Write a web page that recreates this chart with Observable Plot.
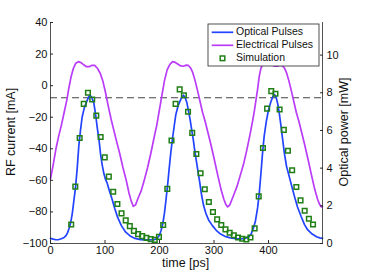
<!DOCTYPE html>
<html>
<head>
<meta charset="utf-8">
<script src="https://cdn.jsdelivr.net/npm/d3@7"></script>
<script src="https://cdn.jsdelivr.net/npm/@observablehq/plot@0.6"></script>
<style>
  html, body { margin: 0; padding: 0; background: #fff; }
  #chart { width: 381px; height: 277px; }
</style>
</head>
<body>
<div id="chart"></div>
<script>
// ---- data ----
const elecT = [0,5,10,15,20,25,30,34,38,42,46,51,56,61,66,71,76,81,86,91,96,101,106,111,116,121,127,133,139,144,148,152,156,161,166,172,178,184,190,195,199,204,209,214,219,224,229,234,239,244,249,253,257,261,265,270,275,279,284,289,294,300,307,313,318,322,325,329,333,337,342,348,354,360,366,371,374,377,380,383,386,390,395,401,406,411,416,421,425,429,433,437,442,447,451,456,461,466,472,479,485,490,494,497,499];
const elecMA = [-59,-50,-40,-32,-25,-17,-9,-1,6,11,14,15.2,14.6,13.2,12,12,12.9,12.8,11,8,3,-4.5,-13,-21,-28,-35,-43,-52,-60,-68,-73,-76.5,-75.5,-71,-67,-60,-52,-43,-33,-25,-17,-7,3,10,13.5,15.2,14.7,13.6,12.5,12.3,13,12.8,11.2,8.2,3.5,-3.5,-11,-17,-23,-30,-37,-46,-57,-66,-72,-75.5,-76.8,-75.5,-72,-68.5,-64,-57,-50,-41,-31,-22,-16,-9,-2,6,11,14,15.2,14.6,13.4,12.3,12.3,13,12.8,11.2,8.2,3.5,-3.5,-11,-17,-23,-30,-37,-46,-57,-66,-72,-75.5,-76.8,-76.5];

const optT = [0,5,10,15,20,25,28,31,34,37,40,43,46,49,52,55,58,62,66,70,73,76,79.5,82.5,86,89,92,95,98,101,104,108,113,118,123,130,138,147,155,165,178,190,196,200,203,206,209,212,215,218,221,224,227,230,234,238,241,244,247,250,253,256,259,262,265,268,271,274,277,281,285,290,297,304,312,320,330,340,350,358,364,368,372,376,380,383,386,389,392,396,400,404,408,411,414,417,420,423,426,429,433,438,443,448,453,460,466,472,480,488,494,499];
const optMW = [0.27,0.23,0.2,0.21,0.25,0.32,0.4,0.55,0.8,1.1,1.6,2.3,3.0,4.0,5.2,6.0,6.7,7.2,7.5,7.78,7.86,7.72,7.45,6.9,6.1,5.5,4.7,4.15,3.7,3.4,3.2,2.8,2.35,1.85,1.4,0.95,0.6,0.38,0.27,0.21,0.19,0.2,0.27,0.45,0.7,1.05,1.6,2.35,3.15,4.05,4.9,5.6,6.25,6.85,7.3,7.58,7.78,7.87,7.75,7.5,7.05,6.6,6.05,5.5,4.85,4.3,3.75,3.2,2.6,2.0,1.6,1.25,0.95,0.7,0.5,0.38,0.3,0.26,0.25,0.28,0.36,0.5,0.8,1.2,1.9,2.67,3.7,4.8,5.7,6.5,7.1,7.5,7.8,7.9,7.75,7.4,6.85,6.2,5.5,4.8,4.1,3.55,3.0,2.45,1.95,1.42,1.0,0.72,0.5,0.36,0.3,0.27];

const simT = [38,45.5,53.5,61,68.7,76.5,84,92,99.5,107,115,122.7,130.3,138,145.5,153,160.7,168.3,176,183.7,191.3,199,206.7,214.3,222,229.5,237,244.7,252.3,260,267.6,275.3,283,290.5,298,305.7,313.3,321,328.7,336.3,344,351.6,359.2,366.8,374.5,382,389.7,397.4,405,412.7,420.3,428,435.6,443.3,451,458.7,466.3,474,481.6];
const simMW = [1.01,3.02,5.6,7.41,8.0,7.64,6.79,5.65,4.57,3.55,2.75,2.1,1.6,1.23,0.92,0.67,0.5,0.39,0.3,0.23,0.19,0.35,0.98,2.9,5.47,7.41,8.18,7.87,6.99,5.87,4.75,3.73,2.88,2.2,1.67,1.28,0.98,0.75,0.57,0.44,0.32,0.25,0.21,0.32,0.8,2.5,5.07,7.16,8.09,7.95,7.11,6.03,4.92,3.89,3.0,2.29,1.74,1.31,1.01];

const thresholdMA = -7.7;
const xTicks = [0,100,200,300,400];
const leftTicks = [-100,-80,-60,-40,-20,0,20,40];
const rightTicks = [0,2,4,6,8,10];
const legendLabels = ["Optical Pulses","Electrical Pulses","Simulation"];

// right axis (mW) mapped onto left axis (mA)
const leftDomain = [-100, 40];
const rightDomain = [0, 11.73];
const mwToMA = mw => leftDomain[0] + (mw - rightDomain[0]) * (leftDomain[1]-leftDomain[0]) / (rightDomain[1]-rightDomain[0]);
const maToMW = ma => rightDomain[0] + (ma - leftDomain[0]) * (rightDomain[1]-rightDomain[0]) / (leftDomain[1]-leftDomain[0]);

const elec = elecT.map((t,i) => ({t, v: elecMA[i]}));
const opt = optT.map((t,i) => ({t, v: optMW[i]}));
const sim = simT.map((t,i) => ({t, v: simMW[i]}));

const BLUE = "#2244ff", PURPLE = "#bb3cf7", GREEN = "#1f7f14", AX = "#262626";
const FONT = "'Liberation Sans', Arial, Helvetica, sans-serif";

const plot = Plot.plot({
  width: 381, height: 277,
  marginLeft: 50, marginRight: 59, marginTop: 22, marginBottom: 34,
  style: {fontSize: "11px", fontFamily: FONT, color: "#111", background: "white"},
  x: {domain: [0, 499]},
  y: {domain: leftDomain},
  marks: [
    Plot.ruleY([thresholdMA], {stroke: "#444", strokeWidth: 1.1, strokeDasharray: "7,4"}),
    Plot.line(elec, {x: "t", y: "v", stroke: PURPLE, strokeWidth: 1.7}),
    Plot.line(opt, {x: "t", y: d => mwToMA(d.v), stroke: BLUE, strokeWidth: 1.7}),
    Plot.dot(sim, {x: "t", y: d => mwToMA(d.v), symbol: "square", r: 2.6, stroke: GREEN, strokeWidth: 1.5, fill: "none"}),
    // axis lines
    Plot.ruleX([0], {stroke: AX, strokeWidth: 0.8}),
    Plot.ruleX([499], {stroke: AX, strokeWidth: 0.8}),
    Plot.ruleY([leftDomain[0]], {stroke: AX, strokeWidth: 0.8}),
    // left axis
    Plot.axisY({anchor: "left", ticks: leftTicks, tickSize: 0, tickPadding: 3, label: null, fill: "#111"}),
    Plot.axisY({anchor: "left", ticks: leftTicks, tickSize: 3, dx: 3, fill: "none", stroke: AX, label: null}),
    // right axis
    Plot.axisY({anchor: "right", ticks: rightTicks.map(mwToMA), tickFormat: d => String(Math.round(maToMW(d))), tickSize: 0, tickPadding: 4, label: null, fill: "#111"}),
    Plot.axisY({anchor: "right", ticks: rightTicks.map(mwToMA), tickSize: 3, dx: -3, fill: "none", stroke: AX, label: null}),
    // bottom axis
    Plot.axisX({anchor: "bottom", ticks: xTicks, tickSize: 0, tickPadding: 3, label: null, fill: "#111"}),
    Plot.axisX({anchor: "bottom", ticks: xTicks, tickSize: 3, dy: -3, fill: "none", stroke: AX, label: null})
  ]
});

document.getElementById("chart").appendChild(plot);

// titles and legend
const svg = d3.select(plot);
const g = svg.append("g").attr("font-family", FONT).attr("fill", "#111");
g.append("text").attr("transform", "translate(12,132) rotate(-90)")
  .attr("text-anchor", "middle").attr("dominant-baseline", "middle")
  .attr("font-size", "12.5px").text("RF current [mA]");
g.append("text").attr("transform", "translate(345,132) rotate(-90)")
  .attr("text-anchor", "middle").attr("dominant-baseline", "middle")
  .attr("font-size", "12.5px").text("Optical power [mW]");
g.append("text").attr("x", 185.6).attr("y", 264)
  .attr("text-anchor", "middle").attr("dominant-baseline", "middle")
  .attr("font-size", "12.5px").text("time [ps]");

const lg = svg.append("g").attr("font-family", FONT);
lg.append("rect").attr("x", 208).attr("y", 24).attr("width", 111).attr("height", 42)
  .attr("fill", "white").attr("stroke", AX).attr("stroke-width", 0.8);
const rows = [32.3, 45.3, 58.3];
lg.append("line").attr("x1", 211.7).attr("x2", 233.3).attr("y1", rows[0]).attr("y2", rows[0]).attr("stroke", BLUE).attr("stroke-width", 1.7);
lg.append("line").attr("x1", 211.7).attr("x2", 233.3).attr("y1", rows[1]).attr("y2", rows[1]).attr("stroke", PURPLE).attr("stroke-width", 1.7);
lg.append("rect").attr("x", 222.5 - 2.3).attr("y", rows[2] - 2.3).attr("width", 4.6).attr("height", 4.6)
  .attr("fill", "none").attr("stroke", GREEN).attr("stroke-width", 1.5);
legendLabels.forEach((s, i) => {
  lg.append("text").attr("x", 236).attr("y", rows[i]).attr("dominant-baseline", "middle")
    .attr("text-anchor", "start")
    .attr("font-size", "10.5px").attr("fill", "#111").text(s);
});
</script>
</body>
</html>
